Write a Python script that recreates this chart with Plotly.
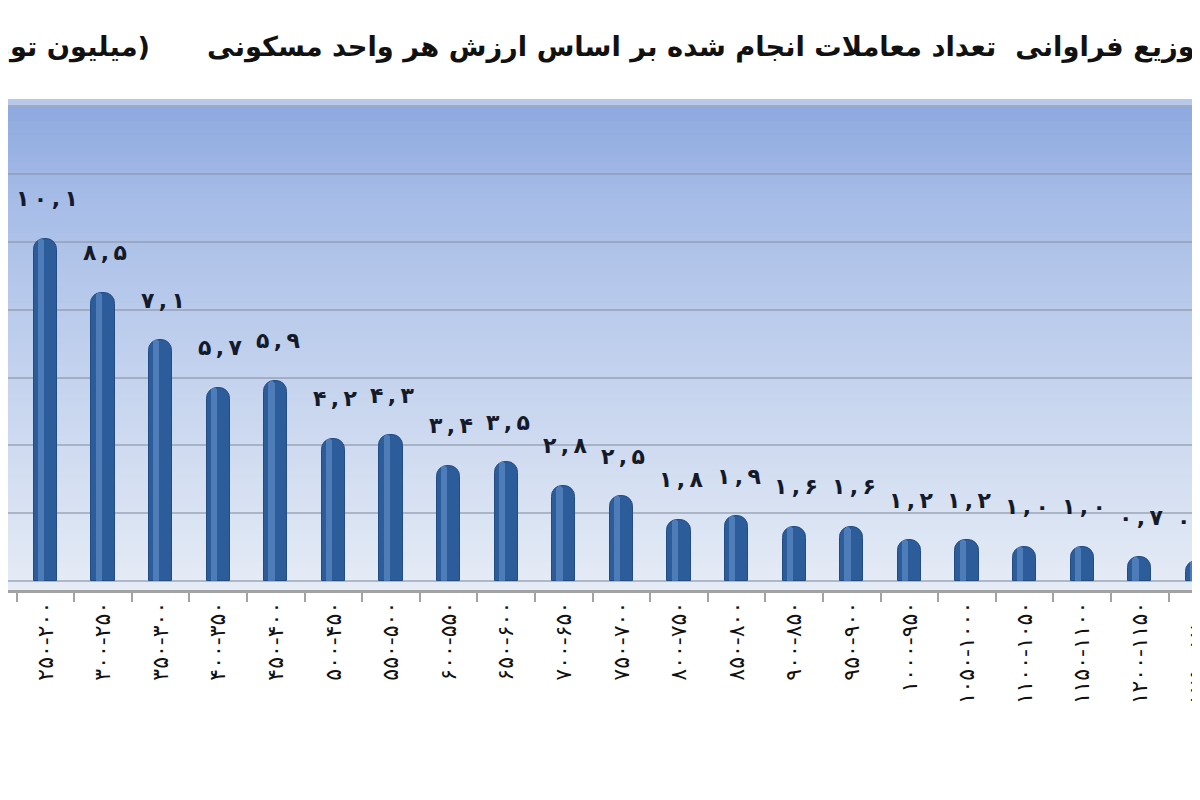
import plotly.graph_objects as go

# price bands (million toman), partial first and last bands are cut by the crop
categories = [
    '۲۰۰-۱۵۰', '۲۵۰-۲۰۰', '۳۰۰-۲۵۰', '۳۵۰-۳۰۰', '۴۰۰-۳۵۰', '۴۵۰-۴۰۰',
    '۵۰۰-۴۵۰', '۵۵۰-۵۰۰', '۶۰۰-۵۵۰', '۶۵۰-۶۰۰', '۷۰۰-۶۵۰', '۷۵۰-۷۰۰',
    '۸۰۰-۷۵۰', '۸۵۰-۸۰۰', '۹۰۰-۸۵۰', '۹۵۰-۹۰۰', '۱۰۰۰-۹۵۰', '۱۰۵۰-۱۰۰۰',
    '۱۱۰۰-۱۰۵۰', '۱۱۵۰-۱۱۰۰', '۱۲۰۰-۱۱۵۰', '۱۲۵۰-۱۲۰۰',
]
share = [11.0, 10.1, 8.5, 7.1, 5.7, 5.9, 4.2, 4.3, 3.4, 3.5, 2.8,
         2.5, 1.8, 1.9, 1.6, 1.6, 1.2, 1.2, 1.0, 1.0, 0.7, 0.6]

title_text = ('توزیع فراوانی  تعداد معاملات انجام شده بر اساس ارزش هر واحد مسکونی'
              + '\u00a0' * 6 + '(میلیون تومان)')

FA_DIGITS = str.maketrans('0123456789.', '۰۱۲۳۴۵۶۷۸۹,')


def fa_number(v):
    # spaced-out persian digits, like the original labels
    return '\u2009'.join(f'{v:.1f}'.translate(FA_DIGITS))


def mix(c1, c2, t):
    a = [int(c1[i:i + 2], 16) for i in (1, 3, 5)]
    b = [int(c2[i:i + 2], 16) for i in (1, 3, 5)]
    return 'rgb({},{},{})'.format(*[round(a[k] + (b[k] - a[k]) * t) for k in range(3)])


fig = go.Figure()

# cylinder body
fig.add_trace(go.Bar(
    x=categories, y=share, width=0.4,
    marker=dict(color='#2D5C9B', line=dict(color='#234C85', width=1), cornerradius=11),
    hoverinfo='x+y', showlegend=False))
# light reflection on the cylinder
fig.add_trace(go.Bar(
    x=categories, y=share, width=0.11, offset=-0.13,
    marker=dict(color='rgba(120,165,222,0.45)', line=dict(width=0), cornerradius=5),
    hoverinfo='skip', showlegend=False))

for c, v in zip(categories, share):
    fig.add_annotation(
        x=c, y=v, text='<b>' + fa_number(v) + '</b>', showarrow=False, yshift=40, xshift=2,
        font=dict(family='DejaVu Sans', size=22, color='#141a2a'))

# vertical gradient for the plot area
stops = [(0.0, '#E6ECF6'), (0.25, '#D2DDF1'), (0.55, '#BBCCEC'),
         (0.8, '#A6BCE7'), (0.985, '#8EA9E0'), (1.0, '#DCE5F5')]
n = 70
for k in range(n):
    t0, t1 = k / n, (k + 1) / n
    tm = (t0 + t1) / 2
    for j in range(len(stops) - 1):
        if stops[j][0] <= tm <= stops[j + 1][0]:
            f = (tm - stops[j][0]) / (stops[j + 1][0] - stops[j][0])
            col = mix(stops[j][1], stops[j + 1][1], f)
            break
    fig.add_shape(type='rect', xref='paper', yref='paper', x0=0, x1=1, y0=t0, y1=t1 + 0.002,
                  fillcolor=col, line=dict(width=0), layer='below')

fig.add_annotation(
    x=1.006, y=1.0, xref='paper', yref='paper', yanchor='bottom', xanchor='right',
    yshift=35, text='<b>' + title_text + '</b>', showarrow=False,
    font=dict(family='DejaVu Sans', size=27.3, color='#111111'))

fig.update_layout(
    width=1192, height=792,
    margin=dict(l=0, r=0, t=92, b=210, autoexpand=False),
    paper_bgcolor='white', plot_bgcolor='rgba(0,0,0,0)',
    barmode='overlay', bargap=0,
    xaxis=dict(
        type='category', range=[0.351, 21.045],
        tickangle=-90, tickson='boundaries',
        ticks='outside', ticklen=9, tickwidth=2, tickcolor='#A3A3A3',
        showline=True, linecolor='#A3A3A3', linewidth=3,
        tickfont=dict(family='DejaVu Sans', size=22, color='#111111'),
        showgrid=False),
    yaxis=dict(
        range=[-0.27, 14.19], dtick=2, showticklabels=False,
        showgrid=True, gridcolor='rgba(140,150,168,0.6)', gridwidth=2,
        zeroline=False, showline=False, ticks=''),
)

fig.write_html('out.html')
